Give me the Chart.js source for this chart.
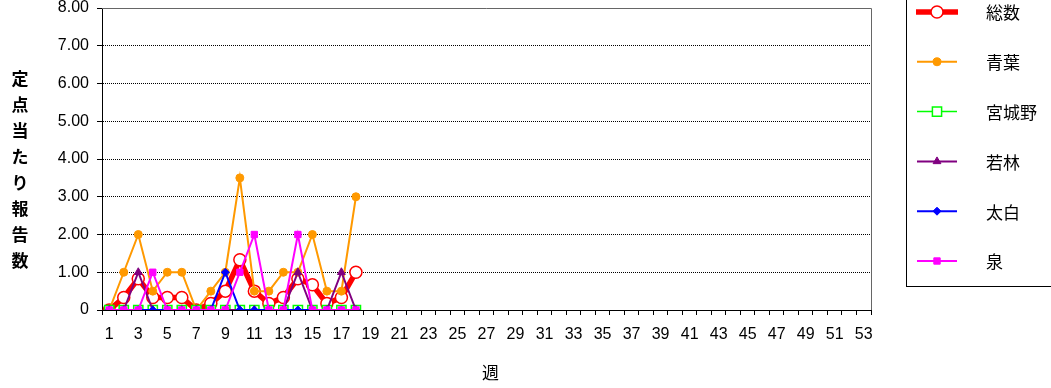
<!DOCTYPE html>
<html>
<head>
<meta charset="utf-8">
<script src="https://cdn.jsdelivr.net/npm/chart.js@4.4.0/dist/chart.umd.min.js"></script>
<style>
  html, body { margin: 0; padding: 0; background: #fff; }
  #wrap { position: relative; width: 1051px; height: 388px; }
</style>
</head>
<body>
<div id="wrap"><canvas id="chart" width="1051" height="388"></canvas></div>
<script>
// week labels on the x axis
const weeks = ['1', '2', '3', '4', '5', '6', '7', '8', '9', '10', '11', '12', '13', '14', '15', '16', '17', '18',
  '19', '20', '21', '22', '23', '24', '25', '26', '27', '28', '29', '30', '31', '32', '33', '34', '35', '36',
  '37', '38', '39', '40', '41', '42', '43', '44', '45', '46', '47', '48', '49', '50', '51', '52', '53'];

// reports per sentinel site, weeks 1-18
const total       = [0, 0.33, 0.83, 0.33, 0.33, 0.33, 0, 0.17, 0.5, 1.33, 0.5, 0.17, 0.33, 0.83, 0.67, 0.17, 0.33, 1.0];
const aoba        = [0, 1, 2, 0.5, 1, 1, 0, 0.5, 1, 3.5, 0.5, 0.5, 1, 1, 2, 0.5, 0.5, 3];
const miyagino    = [0, 0, 0, 0, 0, 0, 0, 0, 0, 0, 0, 0, 0, 0, 0, 0, 0, 0];
const wakabayashi = [0, 0, 1, 0, 0, 0, 0, 0, 0, 0, 0, 0, 0, 1, 0, 0, 1, 0];
const taihaku     = [0, 0, 0, 0, 0, 0, 0, 0, 1, 0, 0, 0, 0, 0, 0, 0, 0, 0];
const izumi       = [0, 0, 0, 1, 0, 0, 0, 0, 0, 1, 2, 0, 0, 2, 0, 0, 0, 0];

const yTitle = '定点当たり報告数';
const xTitle = '週';

const numFont = { family: 'Liberation Sans, Arial, sans-serif', size: 16 };
const jpFont = '"Noto Sans CJK JP", sans-serif';

// frame, axis titles and the boxed legend on the right (Excel style)
const extras = {
    id: 'extras',
    afterDraw(chart) {
        const ctx = chart.ctx;
        const a = chart.chartArea;
        ctx.save();
        // plot frame top + right
        ctx.strokeStyle = '#666';
        ctx.lineWidth = 1;
        ctx.beginPath();
        ctx.moveTo(a.left, Math.round(a.top) + 0.5);
        ctx.lineTo(Math.round(a.right) + 0.5, Math.round(a.top) + 0.5);
        ctx.lineTo(Math.round(a.right) + 0.5, a.bottom);
        ctx.stroke();

        // y title, one character per row
        ctx.fillStyle = '#000';
        ctx.font = 'bold 17px ' + jpFont;
        ctx.textAlign = 'center';
        ctx.textBaseline = 'middle';
        [...yTitle].forEach((ch, i) => ctx.fillText(ch, 20, 79 + i * 26));

        // x title
        ctx.font = '17px ' + jpFont;
        ctx.fillText(xTitle, (a.left + a.right) / 2 + 4, 373);

        // legend box
        ctx.strokeStyle = '#000';
        ctx.strokeRect(906.5, -5, 200, 291.5);
        ctx.font = '17px ' + jpFont;
        ctx.textAlign = 'left';
        chart.data.datasets.forEach((ds, i) => {
            const y = 12 + i * 49.8;
            ctx.strokeStyle = ds.borderColor;
            ctx.lineWidth = ds.borderWidth;
            ctx.beginPath();
            ctx.moveTo(i === 0 ? 916 : 917, y);
            ctx.lineTo(i === 0 ? 958 : 957, y);
            ctx.stroke();
            ctx.fillStyle = ds.pointBackgroundColor;
            ctx.strokeStyle = ds.pointBorderColor;
            ctx.lineWidth = ds.pointBorderWidth;
            Chart.helpers.drawPoint(ctx, {
                pointStyle: ds.pointStyle, radius: ds.pointRadius,
                borderWidth: ds.pointBorderWidth, rotation: 0
            }, 937, y);
            ctx.fillStyle = '#000';
            ctx.fillText(ds.label, 986, y + 1);
        });
        ctx.restore();
    }
};

const ctx = document.getElementById('chart').getContext('2d');
const chart = new Chart(ctx, {
    type: 'line',
    data: {
        labels: weeks,
        datasets: [
            { label: '総数', data: total, order: 6, borderColor: '#ff0000', borderWidth: 5.5,
              pointStyle: 'circle', pointRadius: 6, pointBackgroundColor: '#fff', pointBorderColor: '#ff0000', pointBorderWidth: 1.5 },
            { label: '青葉', data: aoba, order: 5, borderColor: '#ff9900', borderWidth: 2,
              pointStyle: 'circle', pointRadius: 4, pointBackgroundColor: '#ff9900', pointBorderColor: '#ff9900', pointBorderWidth: 1 },
            { label: '宮城野', data: miyagino, order: 4, borderColor: '#00ff00', borderWidth: 1.5,
              pointStyle: 'rect', pointRadius: 6.5, pointBackgroundColor: '#fff', pointBorderColor: '#00ff00', pointBorderWidth: 1.5 },
            { label: '若林', data: wakabayashi, order: 3, borderColor: '#800080', borderWidth: 2,
              pointStyle: 'triangle', pointRadius: 4.5, pointBackgroundColor: '#800080', pointBorderColor: '#800080', pointBorderWidth: 1 },
            { label: '太白', data: taihaku, order: 2, borderColor: '#0000ff', borderWidth: 2,
              pointStyle: 'rectRot', pointRadius: 4, pointBackgroundColor: '#0000ff', pointBorderColor: '#0000ff', pointBorderWidth: 1 },
            { label: '泉', data: izumi, order: 1, borderColor: '#ff00ff', borderWidth: 2,
              pointStyle: 'rect', pointRadius: 4.5, pointBackgroundColor: '#ff00ff', pointBorderColor: '#ff00ff', pointBorderWidth: 1 }
        ]
    },
    options: {
        responsive: false,
        animation: false,
        layout: { padding: { left: 0, right: 180, top: 8, bottom: 0 } },
        plugins: { legend: { display: false }, tooltip: { enabled: false } },
        elements: { line: { tension: 0 } },
        scales: {
            x: {
                offset: true,
                grid: { offset: true, drawOnChartArea: false, tickLength: 5, tickColor: '#000' },
                border: { color: '#000', width: 1 },
                ticks: {
                    autoSkip: false, maxRotation: 0, padding: 10, color: '#000', font: numFont,
                    callback: (v, i) => (i % 2 === 0 ? weeks[i] : '')
                },
                afterFit: s => { s.height = 78; }
            },
            y: {
                min: 0, max: 8,
                grid: { color: '#000', tickLength: 5, tickColor: '#000' },
                border: { color: '#000', width: 1, dash: [1, 1] },
                ticks: {
                    stepSize: 1, padding: 8, color: '#000', font: numFont,
                    callback: v => (v === 0 ? '0' : v.toFixed(2))
                },
                afterFit: s => { s.width = 102; s.paddingTop = 0; s.paddingBottom = 0; }
            }
        }
    },
    plugins: [extras]
});
</script>
</body>
</html>
